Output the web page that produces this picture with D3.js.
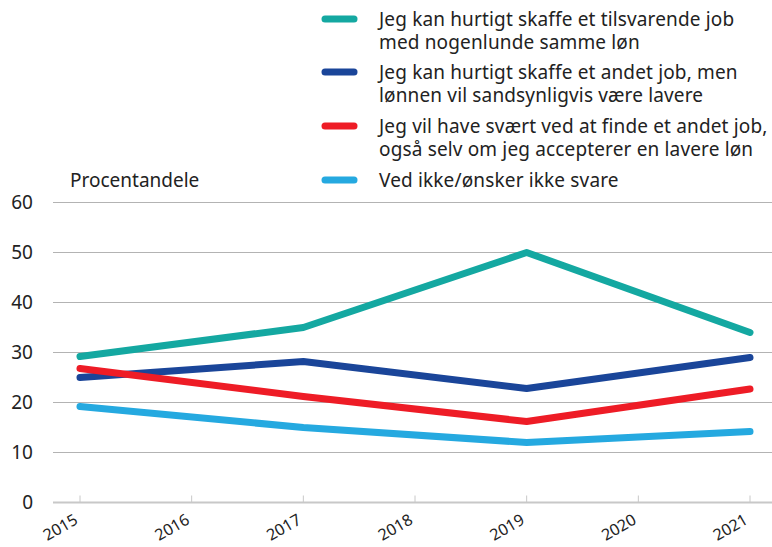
<!DOCTYPE html>
<html>
<head>
<meta charset="utf-8">
<script src="https://cdn.jsdelivr.net/npm/d3@7"></script>
<style>
  body { margin: 0; background: #fff; }
  svg { font-family: "Noto Sans", "Open Sans", sans-serif; }
</style>
</head>
<body>
<script>
// Data
var years = [2015, 2016, 2017, 2018, 2019, 2020, 2021];
var pointYears = [2015, 2017, 2019, 2021];
var yTicks = [0, 10, 20, 30, 40, 50, 60];

var seriesNames = [
  ["Jeg kan hurtigt skaffe et tilsvarende job", "med nogenlunde samme løn"],
  ["Jeg kan hurtigt skaffe et andet job, men", "lønnen vil sandsynligvis være lavere"],
  ["Jeg vil have svært ved at finde et andet job,", "også selv om jeg accepterer en lavere løn"],
  ["Ved ikke/ønsker ikke svare"]
];
var seriesColors = ["#14a8a1", "#1a4599", "#ee1c26", "#25a9e0"];

var tilsvarende = [29.2, 35.0, 50.0, 34.0];
var andetLavere = [25.0, 28.2, 22.8, 29.0];
var svaert = [26.8, 21.2, 16.2, 22.7];
var vedIkke = [19.2, 15.0, 12.0, 14.2];

var seriesValues = [tilsvarende, andetLavere, svaert, vedIkke];

// Set the dimensions
var width = 772, height = 547;
var plotLeft = 53, plotRight = 772, plotTop = 202.5, plotBottom = 502.5;

var x = d3.scaleLinear().domain([2015, 2021]).range([80, 750]);
var y = d3.scaleLinear().domain([0, 60]).range([plotBottom, plotTop]);

var svg = d3.select("body")
  .append("svg")
    .attr("width", width)
    .attr("height", height);

// gridlines
svg.append("g")
  .selectAll("line")
  .data(yTicks.filter(function(d) { return d > 0; }))
  .enter().append("line")
    .attr("x1", plotLeft)
    .attr("x2", plotRight)
    .attr("y1", function(d) { return y(d); })
    .attr("y2", function(d) { return y(d); })
    .attr("stroke", "#b3b3b3")
    .attr("stroke-width", 1);

// Y axis labels
svg.append("g")
  .selectAll("text")
  .data(yTicks)
  .enter().append("text")
    .attr("x", 33)
    .attr("y", function(d) { return y(d); })
    .attr("dy", "0.36em")
    .attr("text-anchor", "end")
    .attr("font-size", 19)
    .attr("fill", "#222")
    .text(function(d) { return d; });

// X axis baseline and ticks
svg.append("line")
  .attr("x1", plotLeft)
  .attr("x2", plotRight)
  .attr("y1", y(0))
  .attr("y2", y(0))
  .attr("stroke", "#c8c8c8")
  .attr("stroke-width", 2);

svg.append("g")
  .selectAll("line")
  .data(years)
  .enter().append("line")
    .attr("x1", function(d) { return x(d); })
    .attr("x2", function(d) { return x(d); })
    .attr("y1", y(0) - 7)
    .attr("y2", y(0))
    .attr("stroke", "#c8c8c8")
    .attr("stroke-width", 1);

svg.append("g")
  .selectAll("text")
  .data(years)
  .enter().append("text")
    .attr("transform", function(d) { return "translate(" + (x(d) - 1) + "," + 523 + ") rotate(-30)"; })
    .attr("text-anchor", "end")
    .attr("font-size", 16)
    .attr("fill", "#222")
    .text(function(d) { return d; });

// y label
svg.append("text")
  .attr("x", 70)
  .attr("y", 187)
  .attr("font-size", 19)
  .attr("fill", "#222")
  .text("Procentandele");

// lines
var valueline = d3.line()
  .x(function(d, i) { return x(pointYears[i]); })
  .y(function(d) { return y(d); });

svg.append("g")
  .selectAll("path")
  .data(seriesValues)
  .enter().append("path")
    .attr("d", function(d) { return valueline(d); })
    .attr("fill", "none")
    .attr("stroke", function(d, i) { return seriesColors[i]; })
    .attr("stroke-width", 7)
    .attr("stroke-linecap", "round")
    .attr("stroke-linejoin", "round");

// legend
var legendTops = [19, 72, 126, 180];
var legend = svg.append("g")
  .selectAll("g")
  .data(seriesNames)
  .enter().append("g")
    .attr("transform", function(d, i) { return "translate(0," + legendTops[i] + ")"; });

legend.append("line")
  .attr("x1", 325)
  .attr("x2", 354)
  .attr("y1", 0)
  .attr("y2", 0)
  .attr("stroke", function(d, i) { return seriesColors[i]; })
  .attr("stroke-width", 7)
  .attr("stroke-linecap", "round");

legend.each(function(lines) {
  var g = d3.select(this);
  lines.forEach(function(t, j) {
    g.append("text")
      .attr("x", 379)
      .attr("y", j * 23)
      .attr("dy", "0.36em")
      .attr("font-size", 19)
      .attr("letter-spacing", 0.15)
      .attr("fill", "#222")
      .text(t);
  });
});
</script>
</body>
</html>
